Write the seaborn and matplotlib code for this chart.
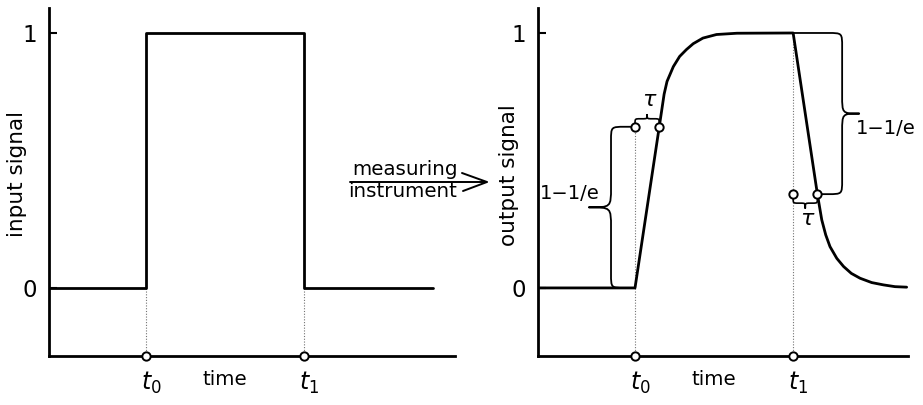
import numpy as np
import pandas as pd
import matplotlib
matplotlib.use("Agg")
import matplotlib.pyplot as plt
import seaborn as sns
from matplotlib.path import Path
from matplotlib.patches import PathPatch
from matplotlib.lines import Line2D

# ---------------------------------------------------------------- data
T0 = 1.0          # switch-on time
T1 = 2.63         # switch-off time
TAU = 0.25        # time constant of the instrument
LEVEL_RISE = 1 - 1 / np.e
LEVEL_FALL = 1 / np.e

# rectangular input pulse
input_t = [0.0, 1.0, 1.0, 2.63, 2.63, 3.96]
input_v = [0.0, 0.0, 1.0, 1.0, 0.0, 0.0]

# instrument response: rise after t0
rise_t = [0.0, 1.00, 1.25, 1.30, 1.33, 1.395, 1.46, 1.53, 1.60, 1.70, 1.84, 2.05, 2.63]
rise_v = [0.0, 0.00, 0.632, 0.76, 0.81, 0.868, 0.908, 0.935, 0.958, 0.980, 0.994, 0.999, 1.0]
# instrument response: decay after t1
fall_t = [2.88, 2.925, 2.966, 3.01, 3.08, 3.15, 3.23, 3.32, 3.44, 3.56, 3.68, 3.80]
fall_v = [0.368, 0.267, 0.208, 0.162, 0.116, 0.084, 0.057, 0.038, 0.021, 0.012, 0.005, 0.003]

y_ticks = [0, 1]
y_ticklabels = ["0", "1"]

# ---------------------------------------------------------------- style
sns.set_style("white")
plt.rcParams["font.family"] = ["DejaVu Sans"]
plt.rcParams["mathtext.fontset"] = "dejavusans"
plt.rcParams["text.color"] = "black"
plt.rcParams["axes.labelcolor"] = "black"
plt.rcParams["xtick.color"] = "black"
plt.rcParams["ytick.color"] = "black"

W, H = 923, 405
fig = plt.figure(figsize=(W / 100, H / 100), dpi=100)
fig.patch.set_facecolor("white")


def fx(px):
    return px / W


def fy(py):
    return (H - py) / H


def px_axes(x0, x1, y_top, y_bot):
    return fig.add_axes([fx(x0), fy(y_bot), (x1 - x0) / W, (y_bot - y_top) / H])


ax_in = px_axes(49, 455, 8, 356)
ax_out = px_axes(538, 908, 8, 356)

Y_LO, Y_HI = -0.267, 1.098
LW = 2.0

for ax, xmax in ((ax_in, 4.186), (ax_out, 3.814)):
    ax.set_xlim(0, xmax)
    ax.set_ylim(Y_LO, Y_HI)
    sns.despine(ax=ax)
    for side in ("left", "bottom"):
        ax.spines[side].set_linewidth(LW)
        ax.spines[side].set_color("black")
    ax.set_xticks([])
    ax.set_yticks(y_ticks)
    ax.set_yticklabels(y_ticklabels)
    ax.tick_params(axis="y", direction="in", length=6, width=1.5,
                   pad=8.5, labelsize=16.5, colors="black", left=True)
    ax.patch.set_alpha(0)

# ---------------------------------------------------------------- signals
df_in = pd.DataFrame({"t": input_t, "v": input_v})
sns.lineplot(data=df_in, x="t", y="v", ax=ax_in, sort=False, estimator=None,
             color="black", lw=LW)

df_out = pd.DataFrame({"t": rise_t + fall_t, "v": rise_v + fall_v})
sns.lineplot(data=df_out, x="t", y="v", ax=ax_out, sort=False, estimator=None,
             color="black", lw=LW)

for ax in (ax_in, ax_out):
    ax.set_xlabel("")
    ax.set_ylabel("")

# dotted guides down to the time axis
guide = dict(colors="0.45", linestyles=(0, (1, 1.5)), lw=0.8, zorder=1)
ax_in.vlines([T0, T1], Y_LO, 0, **guide)
ax_out.vlines([T0], Y_LO, LEVEL_RISE, **guide)
ax_out.vlines([T1], Y_LO, 1.0, **guide)

circ = dict(ls="none", marker="o", ms=6, mfc="white", mec="black", mew=1.4,
            clip_on=False, zorder=6)
for ax in (ax_in, ax_out):
    ax.plot([T0, T1], [Y_LO, Y_LO], **circ)
ax_out.plot([T0, T0 + TAU], [LEVEL_RISE, LEVEL_RISE], **circ)
ax_out.plot([T1, T1 + TAU], [LEVEL_FALL, LEVEL_FALL], **circ)

# ---------------------------------------------------------------- axis texts
ax_in.set_ylabel("input signal", fontsize=15.5, color="black")
ax_in.yaxis.set_label_coords(-0.054, 0.523)
ax_out.set_ylabel("output signal", fontsize=15.5, color="black")
ax_out.yaxis.set_label_coords(-0.051, 0.52)

for ax in (ax_in, ax_out):
    ax.annotate(r"$t_0$", xy=(T0, Y_LO), xytext=(-5, -34), textcoords="offset pixels",
                ha="left", va="baseline", fontsize=17)
    ax.annotate(r"$t_1$", xy=(T1, Y_LO), xytext=(-5, -34), textcoords="offset pixels",
                ha="left", va="baseline", fontsize=17)
    ax.annotate("time", xy=((T0 + T1) / 2, Y_LO), xytext=(0, -29),
                textcoords="offset pixels", ha="center", va="baseline", fontsize=14.3)


# ---------------------------------------------------------------- braces
def curly(ax, a, b, spine, tip, r, r2, vertical, lw=1.3):
    """Curly brace between display points a and b; spine/tip given as display
    coordinates perpendicular to the brace direction."""
    if vertical:
        ua, va, ub, vb = a[1], a[0], b[1], b[0]
    else:
        ua, va, ub, vb = a[0], a[1], b[0], b[1]
    d = np.sign(ub - ua)
    um = (ua + ub) / 2
    ra = min(r, abs(spine - va))
    rb = min(r, abs(spine - vb))
    sa = np.sign(spine - va)
    sb = np.sign(vb - spine)
    pts = [(ua, va), (ua, spine - sa * ra),
           (ua, spine), (ua, spine), (ua + d * ra, spine),
           (um - d * r2, spine),
           (um, spine), (um, spine), (um, tip),
           (um, spine), (um, spine), (um + d * r2, spine),
           (ub - d * rb, spine),
           (ub, spine), (ub, spine), (ub, spine + sb * rb),
           (ub, vb)]
    codes = [Path.MOVETO, Path.LINETO,
             Path.CURVE4, Path.CURVE4, Path.CURVE4,
             Path.LINETO,
             Path.CURVE4, Path.CURVE4, Path.CURVE4,
             Path.CURVE4, Path.CURVE4, Path.CURVE4,
             Path.LINETO,
             Path.CURVE4, Path.CURVE4, Path.CURVE4,
             Path.LINETO]
    pts = np.array(pts, dtype=float)
    if vertical:
        pts = pts[:, ::-1]
    pts = ax.transData.inverted().transform(pts)
    ax.add_patch(PathPatch(Path(pts, codes), fill=False, lw=lw, color="black",
                           clip_on=False, zorder=4, capstyle="round", joinstyle="round"))


to_disp = ax_out.transData.transform
# 1 - 1/e rise brace (left of t0)
p_a = to_disp((T0, LEVEL_RISE))
p_b = to_disp((T0, 0.0))
curly(ax_out, p_a, p_b, p_a[0] - 24, p_a[0] - 46, 14, 20, vertical=True)
ax_out.annotate("1\u22121/e", xy=(T0, LEVEL_RISE / 2), xytext=(-35, 8),
                textcoords="offset pixels", ha="right", va="baseline", fontsize=14)

# 1 - 1/e decay brace (right of t1)
p_a = to_disp((T1, 1.0))
p_b = to_disp((T1 + TAU, LEVEL_FALL))
curly(ax_out, p_a, p_b, p_a[0] + 49, p_a[0] + 66, 14, 18, vertical=True)
ax_out.annotate("1\u22121/e", xy=(T1, (1 + LEVEL_FALL) / 2), xytext=(63, -20),
                textcoords="offset pixels", ha="left", va="baseline", fontsize=14)

# tau braces
p_a = to_disp((T0, LEVEL_RISE))
p_b = to_disp((T0 + TAU, LEVEL_RISE))
curly(ax_out, p_a, p_b, p_a[1] + 8, p_a[1] + 12, 5, 5, vertical=False, lw=1.2)
ax_out.annotate(r"$\tau$", xy=(T0 + TAU / 2, LEVEL_RISE), xytext=(3, 27),
                textcoords="offset pixels", ha="center", va="center", fontsize=16)

p_a = to_disp((T1, LEVEL_FALL))
p_b = to_disp((T1 + TAU, LEVEL_FALL))
curly(ax_out, p_a, p_b, p_a[1] - 9, p_a[1] - 14, 5, 5, vertical=False, lw=1.2)
ax_out.annotate(r"$\tau$", xy=(T1 + TAU / 2, LEVEL_FALL), xytext=(2, -25),
                textcoords="offset pixels", ha="center", va="center", fontsize=16)

# ---------------------------------------------------------------- instrument arrow
fig.text(fx(404.5), fy(175), "measuring", ha="center", va="baseline", fontsize=14.3)
fig.text(fx(402.5), fy(197), "instrument", ha="center", va="baseline", fontsize=14.3)
arrow_kw = dict(transform=fig.transFigure, color="black", lw=1.4,
                solid_capstyle="round", solid_joinstyle="miter")
fig.add_artist(Line2D([fx(350), fx(487)], [fy(182), fy(182)], **arrow_kw))
fig.add_artist(Line2D([fx(462), fx(487), fx(463)], [fy(173), fy(182), fy(191)], **arrow_kw))

fig.savefig("out.png", dpi=100, facecolor="white")
